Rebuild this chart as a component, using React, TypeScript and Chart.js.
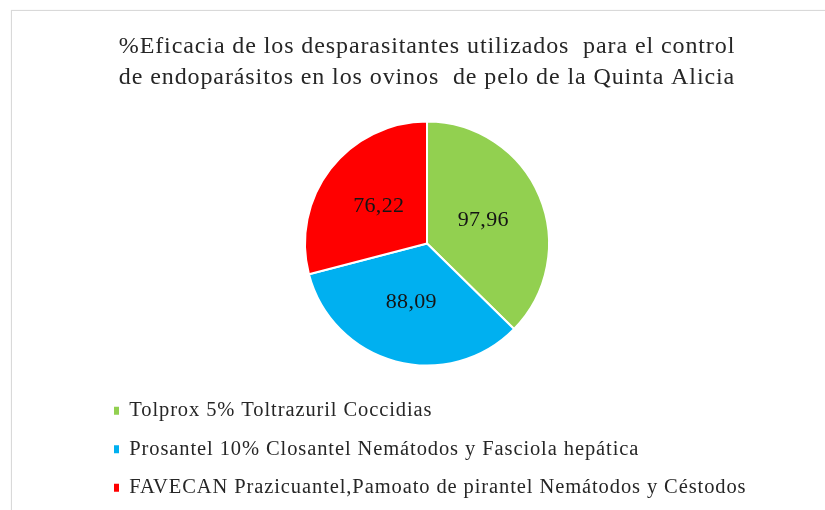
import React, { useEffect, useRef } from "react";
import { Chart, registerables } from "chart.js";

Chart.register(...registerables);

const titleLines = [
  "%Eficacia de los desparasitantes utilizados  para el control",
  "de endoparásitos en los ovinos  de pelo de la Quinta Alicia",
];
const categories = [
  "Tolprox 5% Toltrazuril Coccidias",
  "Prosantel 10% Closantel Nemátodos y Fasciola hepática",
  "FAVECAN Prazicuantel,Pamoato de pirantel Nemátodos y Céstodos",
];
const values = [97.96, 88.09, 76.22];
const colors = ["#92D050", "#00B0F0", "#FF0000"];

const FONT = "'Liberation Serif', 'Times New Roman', serif";

const spacing = {
  id: "spacing",
  beforeDraw(chart: any) {
    chart.ctx.letterSpacing = "0.9px";
  },
  afterDraw(chart: any) {
    chart.ctx.letterSpacing = "0px";
  },
};

const sliceLabels = {
  id: "sliceLabels",
  afterDatasetsDraw(chart: any) {
    const ctx = chart.ctx;
    const meta = chart.getDatasetMeta(0);
    ctx.save();
    ctx.letterSpacing = "0.3px";
    ctx.font = `22px ${FONT}`;
    ctx.fillStyle = "#141414";
    ctx.textAlign = "center";
    ctx.textBaseline = "middle";
    meta.data.forEach((arc: any, i: number) => {
      const p = arc.getCenterPoint();
      const v = chart.data.datasets[0].data[i] as number;
      ctx.fillText(v.toFixed(2).replace(".", ","), p.x, p.y);
    });
    ctx.restore();
  },
};

export default function App() {
  const ref = useRef<HTMLCanvasElement | null>(null);
  useEffect(() => {
    if (!ref.current) return;
    const chart = new Chart(ref.current, {
      type: "pie",
      data: {
        labels: categories,
        datasets: [
          {
            data: values,
            backgroundColor: colors,
            borderColor: "#ffffff",
            borderWidth: 2,
            radius: 122,
          },
        ],
      },
      options: {
        animation: false,
        responsive: false,
        layout: { padding: { left: 96, right: 67, top: 0, bottom: 2 } },
        plugins: {
          tooltip: { enabled: false },
          title: {
            display: true,
            text: titleLines,
            color: "#262626",
            font: { family: FONT, size: 24, weight: "normal", lineHeight: 1.33 },
            padding: { top: 30.3, bottom: 10.4 },
          },
          legend: {
            display: true,
            position: "bottom",
            align: "start",
            labels: {
              color: "#262626",
              font: { family: FONT, size: 20.5 },
              boxWidth: 5,
              boxHeight: 8,
              padding: 18,
              generateLabels: (c: any) =>
                c.data.labels.map((l: string, i: number) => ({
                  text: l,
                  fillStyle: colors[i],
                  strokeStyle: colors[i],
                  lineWidth: 0,
                  hidden: false,
                  index: i,
                  fontColor: "#262626",
                })),
            },
          },
        },
      },
      plugins: [spacing, sliceLabels],
    });
    return () => chart.destroy();
  }, []);

  return (
    <div
      style={{
        position: "fixed",
        left: 0,
        top: 0,
        width: 825,
        height: 510,
        background: "#ffffff",
        overflow: "hidden",
      }}
    >
      <div
        style={{
          position: "absolute",
          left: 11,
          top: 10,
          width: 900,
          height: 600,
          border: "1px solid #d9d9d9",
          boxShadow: "0 0 1px #e6e6e6",
        }}
      />
      <canvas
        ref={ref}
        width={825}
        height={510}
        style={{ position: "absolute", left: 0, top: 0, width: 825, height: 510 }}
      />
    </div>
  );
}
